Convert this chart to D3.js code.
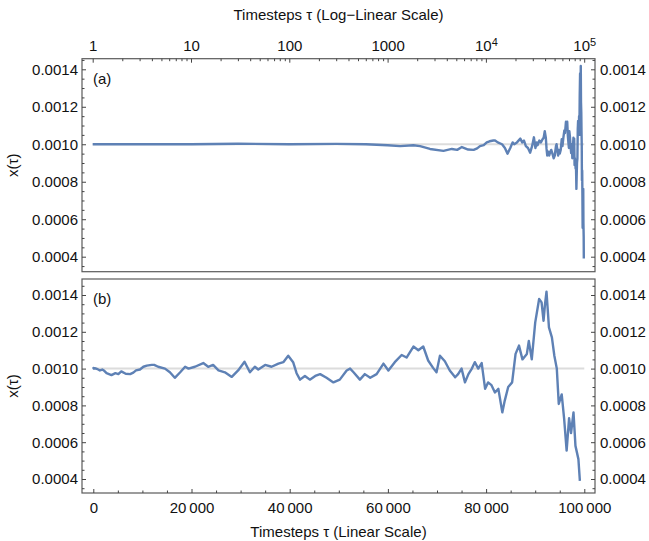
<!DOCTYPE html>
<meta charset="utf-8">
<style>
body { margin: 0; background: #fff; }
text { font-family: "Liberation Sans", Arial, sans-serif; font-size: 15px; fill: #111; }
.frame { fill: none; stroke: #5a5a5a; stroke-width: 1.2; }
.axis path.domain { display: none; }
.axis line { stroke: #444; }
.series { fill: none; stroke: #5e81b5; stroke-width: 2.4; stroke-linejoin: round; }
.ref { stroke: #dcdcdc; stroke-width: 2; }
</style>
<body>
<div id="chart"></div>
<script src="https://d3js.org/d3.v7.min.js"></script>
<script>
// timestep of each sample
var tau = [1, 3, 10, 30, 100, 300, 600, 1000, 1340, 1830, 2140, 2700, 3700, 4500, 5100, 5700,
  6600, 7500, 8150, 8700, 9500, 10200, 10900, 11900, 12400, 13200, 14600, 15600, 16600, 17700,
  18700, 19400, 20700, 22400, 23400, 24400, 25500, 26800, 28200, 29500, 30800, 31900, 32900,
  33600, 35000, 36300, 37700, 38700, 39700, 40700, 41400, 42100, 43100, 44100, 45200, 46200,
  47500, 48900, 50200, 51600, 52300, 53000, 54300, 55300, 56400, 57700, 59100, 60100, 61400,
  62800, 63800, 65200, 66200, 67200, 68200, 69200, 69900, 70600, 71600, 72600, 73700, 74300,
  75000, 75700, 76400, 77100, 77700, 78400, 79100, 79800, 80400, 81100, 81800, 82500, 83300,
  83800, 84500, 85300, 86000, 86700, 87400, 88300, 88700, 89300, 90000, 90800, 91300, 91700,
  92000, 92300, 92800, 93400, 93900, 94400, 94800, 95400, 95900, 96400, 96900, 97300, 97800,
  98200, 98800, 99100];
// x(tau) at each sample
var xval = [0.001, 0.001, 0.001, 0.001003, 0.001, 0.001002, 0.001, 0.000995, 0.00099, 0.000995,
  0.00099, 0.000975, 0.000965, 0.000975, 0.00097, 0.000985, 0.000972, 0.00097, 0.000978, 0.00099,
  0.000995, 0.00101, 0.001016, 0.00102, 0.00102, 0.00101, 0.001, 0.00098, 0.00095, 0.00098,
  0.00101, 0.001, 0.00101, 0.00103, 0.00101, 0.00102, 0.00099, 0.00098, 0.000955, 0.00099,
  0.001037, 0.00098, 0.00101, 0.000995, 0.00102, 0.00101, 0.001027, 0.001035, 0.00107, 0.001035,
  0.000975, 0.00094, 0.00096, 0.00094, 0.00096, 0.00097, 0.00095, 0.000925, 0.00094, 0.00099,
  0.001, 0.00098, 0.00094, 0.00097, 0.00095, 0.00097, 0.001027, 0.00099, 0.001035, 0.001074,
  0.00106, 0.00112, 0.0011, 0.00112, 0.001044, 0.001004, 0.00098, 0.00107, 0.00104, 0.00099,
  0.000953, 0.00097, 0.001, 0.000925, 0.00097, 0.001, 0.001035, 0.001, 0.00103, 0.00089,
  0.000925, 0.00091, 0.00087, 0.00089, 0.000762, 0.000826, 0.0009, 0.000925, 0.00108, 0.001125,
  0.00105, 0.00108, 0.00115, 0.00105, 0.00125, 0.001378, 0.00136, 0.00126, 0.00135, 0.001418,
  0.001224, 0.00117, 0.00107, 0.001, 0.000808, 0.00086, 0.000726, 0.000554, 0.00073, 0.00065,
  0.000762, 0.00058, 0.000508, 0.00039];

var yTicks = [0.0004, 0.0006, 0.0008, 0.0010, 0.0012, 0.0014];
var linTicks = [0, 20000, 40000, 60000, 80000, 100000];
var logTicks = [1, 10, 100, 1000, 10000, 100000];
var refLevel = 0.001;

var data = tau.map(function(t, i) { return {t: t, v: xval[i]}; });

var W = 649, H = 541;
var left = 82, right = 595;
var panels = [
  {id: "(a)", top: 58.7, bottom: 271.7, y0: 256.7, y1: 69.3},
  {id: "(b)", top: 279, bottom: 493, y0: 479, y1: 295}
];

var svg = d3.select("#chart").append("svg")
    .attr("width", W)
    .attr("height", H);

// x scales: log for top panel, linear for bottom panel
var xLog = d3.scaleLog().domain([1, 100000]).range([92.7, 584.2]);
var xLin = d3.scaleLinear().domain([0, 100000]).range([93.3, 584.3]);

var yMinor = d3.range(0.00035, 0.00146, 0.00005).filter(function(v) {
  return Math.abs(Math.round(v / 0.0002) * 0.0002 - v) > 1e-9;
});
var fmtY = function(d) { return d.toFixed(4); };

panels.forEach(function(p, k) {
  var x = k === 0 ? xLog : xLin;
  var y = d3.scaleLinear().domain([0.0004, 0.0014]).range([p.y0, p.y1]);
  var g = svg.append("g");

  // reference level
  g.append("line").attr("class", "ref")
      .attr("x1", x(k === 0 ? 1 : 0)).attr("x2", x(100000))
      .attr("y1", y(refLevel)).attr("y2", y(refLevel));

  var line = d3.line()
      .x(function(d) { return x(d.t); })
      .y(function(d) { return y(d.v); });
  g.append("path").datum(data).attr("class", "series").attr("d", line);

  g.append("rect").attr("class", "frame")
      .attr("x", left).attr("y", p.top)
      .attr("width", right - left).attr("height", p.bottom - p.top);

  // y axes, ticks inward on both sides
  g.append("g").attr("class", "axis")
      .attr("transform", "translate(" + left + ",0)")
      .call(d3.axisLeft(y).tickValues(yTicks).tickSize(-4).tickPadding(4).tickFormat(fmtY));
  g.append("g").attr("class", "axis")
      .attr("transform", "translate(" + left + ",0)")
      .call(d3.axisLeft(y).tickValues(yMinor).tickSize(-2.5).tickFormat(""));
  g.append("g").attr("class", "axis")
      .attr("transform", "translate(" + right + ",0)")
      .call(d3.axisRight(y).tickValues(yTicks).tickSize(-4).tickPadding(5).tickFormat(fmtY));
  g.append("g").attr("class", "axis")
      .attr("transform", "translate(" + right + ",0)")
      .call(d3.axisRight(y).tickValues(yMinor).tickSize(-2.5).tickFormat(""));

  g.append("text").attr("x", 93).attr("y", p.top + 25).text(p.id);

  g.append("text")
      .attr("transform", "translate(18," + ((p.top + p.bottom) / 2) + ") rotate(-90)")
      .attr("text-anchor", "middle")
      .text("x(τ)");
});

// top log axis
var logMinor = [];
[1, 10, 100, 1000, 10000].forEach(function(b) {
  for (var m = 2; m <= 9; m++) logMinor.push(b * m);
});
var topAxis = svg.append("g").attr("class", "axis")
    .attr("transform", "translate(0," + panels[0].top + ")")
    .call(d3.axisTop(xLog).tickValues(logTicks).tickSize(-4).tickPadding(8)
      .tickFormat(function(d) { return d < 10000 ? String(d) : ""; }));
topAxis.selectAll(".tick text").each(function(d) {
  if (d < 10000) return;
  var t = d3.select(this);
  t.append("tspan").text("10");
  t.append("tspan").attr("dy", "-0.45em").style("font-size", "11px").text(Math.round(Math.log10(d)));
});
svg.append("g").attr("class", "axis")
    .attr("transform", "translate(0," + panels[0].top + ")")
    .call(d3.axisTop(xLog).tickValues(logMinor).tickSize(-2.5).tickFormat(""));

// bottom linear axis
var linMinor = d3.range(5000, 100000, 5000).filter(function(v) { return v % 20000 !== 0; });
svg.append("g").attr("class", "axis")
    .attr("transform", "translate(0," + panels[1].bottom + ")")
    .call(d3.axisBottom(xLin).tickValues(linTicks).tickSize(-4).tickPadding(9)
      .tickFormat(function(d) { return d === 0 ? "0" : d3.format(",")(d).replace(/,/g, "\u2009"); }));
svg.append("g").attr("class", "axis")
    .attr("transform", "translate(0," + panels[1].bottom + ")")
    .call(d3.axisBottom(xLin).tickValues(linMinor).tickSize(-2.5).tickFormat(""));

svg.append("text").attr("x", (left + right) / 2).attr("y", 20)
    .attr("text-anchor", "middle").text("Timesteps τ (Log\u2212Linear Scale)");
svg.append("text").attr("x", (left + right) / 2).attr("y", 537)
    .attr("text-anchor", "middle").text("Timesteps τ (Linear Scale)");
</script>
</body>
